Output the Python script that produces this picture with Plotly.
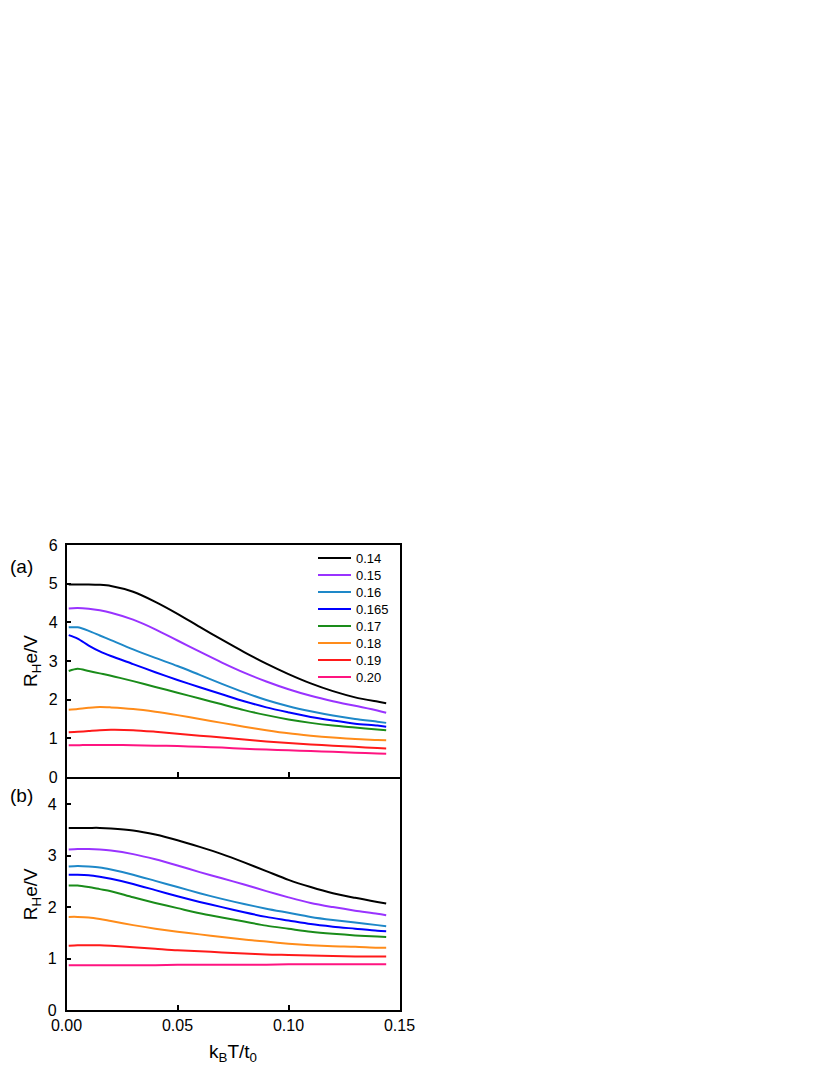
import plotly.graph_objects as go

# ---------------- data ----------------
x_vals = [0.001, 0.005, 0.01, 0.015, 0.02, 0.03, 0.04, 0.05, 0.06, 0.07,
          0.08, 0.09, 0.10, 0.11, 0.12, 0.13, 0.14, 0.144]

series_labels = ["0.14", "0.15", "0.16", "0.165", "0.17", "0.18", "0.19", "0.20"]

# panel (a)
a_014 = [4.98, 4.98, 4.98, 4.97, 4.94, 4.79, 4.53, 4.22, 3.88, 3.55, 3.23, 2.93, 2.66, 2.42, 2.22, 2.06, 1.95, 1.91]
a_015 = [4.36, 4.37, 4.35, 4.31, 4.25, 4.07, 3.82, 3.53, 3.24, 2.96, 2.70, 2.47, 2.27, 2.10, 1.96, 1.84, 1.72, 1.66]
a_016 = [3.87, 3.87, 3.78, 3.66, 3.54, 3.30, 3.08, 2.87, 2.64, 2.41, 2.19, 1.99, 1.83, 1.70, 1.59, 1.50, 1.43, 1.40]
a_0165 = [3.67, 3.58, 3.40, 3.25, 3.13, 2.92, 2.71, 2.51, 2.32, 2.14, 1.96, 1.80, 1.67, 1.55, 1.46, 1.38, 1.33, 1.30]
a_017 = [2.74, 2.80, 2.74, 2.68, 2.62, 2.48, 2.33, 2.18, 2.03, 1.88, 1.73, 1.60, 1.49, 1.40, 1.33, 1.28, 1.23, 1.21]
a_018 = [1.74, 1.76, 1.79, 1.81, 1.80, 1.76, 1.69, 1.60, 1.50, 1.40, 1.30, 1.21, 1.13, 1.07, 1.02, 0.98, 0.96, 0.95]
a_019 = [1.16, 1.17, 1.19, 1.21, 1.22, 1.21, 1.17, 1.12, 1.07, 1.02, 0.97, 0.92, 0.88, 0.84, 0.81, 0.78, 0.75, 0.74]
a_020 = [0.82, 0.82, 0.83, 0.83, 0.83, 0.82, 0.81, 0.80, 0.78, 0.76, 0.73, 0.71, 0.69, 0.67, 0.65, 0.63, 0.61, 0.60]

# panel (b)
b_014 = [3.54, 3.54, 3.54, 3.54, 3.53, 3.49, 3.41, 3.30, 3.17, 3.03, 2.87, 2.70, 2.53, 2.39, 2.27, 2.18, 2.10, 2.07]
b_015 = [3.12, 3.13, 3.13, 3.12, 3.10, 3.03, 2.93, 2.81, 2.68, 2.56, 2.44, 2.31, 2.19, 2.08, 2.00, 1.93, 1.87, 1.84]
b_016 = [2.79, 2.80, 2.79, 2.77, 2.73, 2.63, 2.51, 2.39, 2.27, 2.16, 2.06, 1.97, 1.89, 1.81, 1.75, 1.70, 1.65, 1.63]
b_0165 = [2.63, 2.63, 2.62, 2.59, 2.55, 2.45, 2.33, 2.21, 2.10, 2.00, 1.90, 1.81, 1.74, 1.67, 1.62, 1.58, 1.54, 1.53]
b_017 = [2.42, 2.42, 2.39, 2.35, 2.31, 2.19, 2.08, 1.98, 1.88, 1.80, 1.72, 1.64, 1.58, 1.52, 1.48, 1.45, 1.43, 1.42]
b_018 = [1.81, 1.81, 1.80, 1.77, 1.73, 1.65, 1.58, 1.52, 1.47, 1.42, 1.37, 1.33, 1.29, 1.26, 1.24, 1.23, 1.21, 1.21]
b_019 = [1.25, 1.26, 1.26, 1.26, 1.25, 1.22, 1.19, 1.16, 1.14, 1.12, 1.10, 1.08, 1.07, 1.06, 1.05, 1.04, 1.04, 1.04]
b_020 = [0.87, 0.87, 0.87, 0.87, 0.87, 0.87, 0.87, 0.88, 0.88, 0.88, 0.88, 0.88, 0.89, 0.89, 0.89, 0.89, 0.89, 0.89]

panel_a = [a_014, a_015, a_016, a_0165, a_017, a_018, a_019, a_020]
panel_b = [b_014, b_015, b_016, b_0165, b_017, b_018, b_019, b_020]

x_tickvals = [0.0, 0.05, 0.10, 0.15]
x_ticktext = ["0.00", "0.05", "0.10", "0.15"]

# ---------------- style ----------------
colors = ["#000000", "#9933FF", "#1E88C8", "#0000FF", "#1A8C1A", "#FF8C1A", "#FF1A1A", "#FF1480"]
FONT = "Liberation Sans, Arial, sans-serif"
OFF = 8                     # page body margin in the browser
W, H = 830 - 2 * OFF, 1075 - 2 * OFF


def px(v):
    return max(0.0, (v - OFF) / W)


def py(v):
    return 1 - (v - OFF) / H


X0, X1 = 66.5, 399.5
YA_TOP, YMID, YB_BOT = 545, 777, 1010
LW = 1.5

# legend layout (pixels in the reference)
LEG_X0, LEG_X1, LEG_TX = 318, 351, 354
LEG_Y0, LEG_DY = 558, 17

fig = go.Figure()

for lab, col, ya, yb in zip(series_labels, colors, panel_a, panel_b):
    fig.add_trace(go.Scatter(x=x_vals, y=ya, mode="lines", name=lab,
                             line=dict(color=col, width=2, shape="spline", smoothing=0.8),
                             xaxis="x", yaxis="y", showlegend=False))
    fig.add_trace(go.Scatter(x=x_vals, y=yb, mode="lines", name=lab,
                             line=dict(color=col, width=2, shape="spline", smoothing=0.8),
                             xaxis="x2", yaxis="y2", showlegend=False))

axis_common = dict(showline=True, linecolor="black", linewidth=LW, mirror=True,
                   ticks="inside", ticklen=5, tickwidth=1.5, tickcolor="black",
                   showgrid=False, zeroline=False, automargin=False,
                   tickfont=dict(family=FONT, size=16, color="black"))

# manual legend (keys + labels) inside panel (a)
shapes = []
annotations = []
for i, (lab, col) in enumerate(zip(series_labels, colors)):
    yy = py(LEG_Y0 + i * LEG_DY)
    shapes.append(dict(type="line", xref="paper", yref="paper",
                       x0=px(LEG_X0), x1=px(LEG_X1), y0=yy, y1=yy,
                       line=dict(color=col, width=2)))
    annotations.append(dict(text=lab, x=px(LEG_TX), y=yy, xref="paper", yref="paper",
                            xanchor="left", yanchor="middle", showarrow=False,
                            font=dict(family=FONT, size=13, color="black")))

annotations += [
    dict(text="(a)", x=0, y=py(566), xref="paper", yref="paper",
         xanchor="left", yanchor="middle", showarrow=False,
         font=dict(family=FONT, size=19, color="black")),
    dict(text="(b)", x=0, y=py(795), xref="paper", yref="paper",
         xanchor="left", yanchor="middle", showarrow=False,
         font=dict(family=FONT, size=19, color="black")),
]

fig.update_layout(
    width=W, height=H,
    margin=dict(l=0, r=0, t=0, b=0, autoexpand=False),
    paper_bgcolor="white", plot_bgcolor="white",
    font=dict(family=FONT, color="black"),
    showlegend=False,
    xaxis=dict(domain=[px(X0), px(X1)], range=[0, 0.15], anchor="y",
               tickvals=x_tickvals, showticklabels=False, **axis_common),
    yaxis=dict(domain=[py(YMID), py(YA_TOP)], range=[0, 6], anchor="x",
               tickvals=[0, 1, 2, 3, 4, 5, 6], ticklabelstandoff=4,
               title=dict(text="R<sub>H</sub>e/V", font=dict(family=FONT, size=19), standoff=6),
               **axis_common),
    xaxis2=dict(domain=[px(X0), px(X1)], range=[0, 0.15], anchor="y2",
                tickvals=x_tickvals, ticktext=x_ticktext, ticklabelstandoff=0,
                title=dict(text="k<sub>B</sub>T/t<sub>0</sub>", font=dict(family=FONT, size=19), standoff=12),
                **axis_common),
    yaxis2=dict(domain=[py(YB_BOT), py(YMID + LW)], range=[0, 4.5], anchor="x2",
                tickvals=[0, 1, 2, 3, 4], ticklabelstandoff=5,
                title=dict(text="R<sub>H</sub>e/V", font=dict(family=FONT, size=19), standoff=5),
                **axis_common),
    shapes=shapes,
    annotations=annotations,
)

fig.write_html("out.html")
